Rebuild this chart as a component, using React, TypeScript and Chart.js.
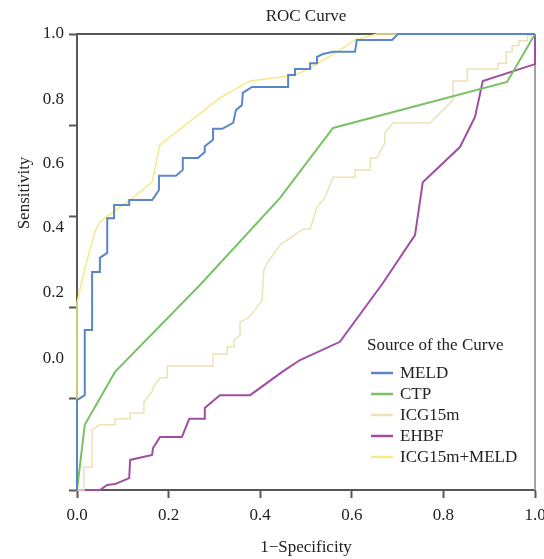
import React, { useEffect, useRef } from 'react';
import { Chart, registerables } from 'chart.js';

Chart.register(...registerables);

// ---- Data ----
const chartTitle = 'ROC Curve';
const xAxisTitle = '1\u2212Specificity';
const yAxisTitle = 'Sensitivity';
const legendTitle = 'Source of the Curve';

const seriesNames = ['MELD', 'CTP', 'ICG15m', 'EHBF', 'ICG15m+MELD'];

const meldX = [0, 0, 0.017, 0.017, 0.033, 0.033, 0.05, 0.05, 0.066, 0.066, 0.081, 0.081, 0.114, 0.114, 0.164, 0.179, 0.179, 0.216, 0.231, 0.231, 0.264, 0.279, 0.279, 0.297, 0.297, 0.317, 0.341, 0.347, 0.36, 0.362, 0.382, 0.461, 0.461, 0.476, 0.476, 0.509, 0.509, 0.524, 0.524, 0.537, 0.559, 0.607, 0.611, 0.688, 0.701, 1];
const meldY = [0, 0.197, 0.208, 0.351, 0.351, 0.478, 0.478, 0.509, 0.52, 0.596, 0.596, 0.625, 0.625, 0.636, 0.636, 0.658, 0.689, 0.689, 0.702, 0.728, 0.728, 0.741, 0.754, 0.768, 0.792, 0.792, 0.805, 0.833, 0.844, 0.871, 0.884, 0.884, 0.91, 0.91, 0.923, 0.923, 0.936, 0.936, 0.95, 0.956, 0.961, 0.961, 0.987, 0.987, 1, 1];

const ctpX = [0, 0.017, 0.083, 0.269, 0.443, 0.559, 0.939, 1];
const ctpY = [0, 0.143, 0.259, 0.45, 0.64, 0.794, 0.895, 1];

const icgX = [0, 0.015, 0.015, 0.033, 0.033, 0.05, 0.083, 0.083, 0.116, 0.116, 0.146, 0.146, 0.166, 0.166, 0.181, 0.197, 0.197, 0.297, 0.297, 0.328, 0.328, 0.343, 0.343, 0.356, 0.356, 0.373, 0.389, 0.404, 0.408, 0.417, 0.443, 0.493, 0.509, 0.524, 0.531, 0.541, 0.559, 0.607, 0.607, 0.64, 0.64, 0.655, 0.672, 0.672, 0.69, 0.771, 0.821, 0.821, 0.852, 0.852, 0.919, 0.919, 0.937, 0.937, 0.95, 0.95, 0.965, 0.965, 0.983, 0.983, 1];
const icgY = [0, 0, 0.05, 0.05, 0.132, 0.143, 0.143, 0.156, 0.156, 0.169, 0.169, 0.193, 0.219, 0.226, 0.246, 0.246, 0.272, 0.272, 0.298, 0.298, 0.314, 0.314, 0.329, 0.34, 0.368, 0.377, 0.395, 0.417, 0.482, 0.5, 0.537, 0.572, 0.572, 0.621, 0.629, 0.64, 0.686, 0.686, 0.702, 0.702, 0.728, 0.728, 0.761, 0.783, 0.805, 0.805, 0.855, 0.897, 0.897, 0.923, 0.923, 0.936, 0.936, 0.961, 0.961, 0.974, 0.974, 0.985, 0.985, 0.996, 1];

const ehbfX = [0, 0.05, 0.066, 0.083, 0.114, 0.116, 0.164, 0.166, 0.181, 0.229, 0.245, 0.279, 0.279, 0.312, 0.378, 0.448, 0.487, 0.574, 0.668, 0.738, 0.755, 0.836, 0.869, 0.886, 1, 1];
const ehbfY = [0, 0, 0.011, 0.013, 0.026, 0.066, 0.077, 0.092, 0.116, 0.116, 0.156, 0.156, 0.18, 0.208, 0.208, 0.259, 0.285, 0.325, 0.454, 0.559, 0.675, 0.752, 0.818, 0.897, 0.934, 1];

const comboX = [0, 0, 0.011, 0.024, 0.039, 0.05, 0.079, 0.116, 0.164, 0.181, 0.312, 0.378, 0.476, 0.504, 0.568, 0.607, 0.655, 1];
const comboY = [0, 0.41, 0.461, 0.511, 0.566, 0.588, 0.61, 0.636, 0.675, 0.757, 0.86, 0.897, 0.91, 0.923, 0.961, 0.987, 1, 1];

const xTickValues = [0, 0.2, 0.4, 0.6, 0.8, 1.0];
const xTickLabels = ['0.0', '0.2', '0.4', '0.6', '0.8', '1.0'];
const yTickMarks = [0, 0.2, 0.4, 0.6, 0.8, 1.0];
const yTickLabelValues = [0.289, 0.432, 0.575, 0.717, 0.857, 1.0];
const yTickLabels = ['0.0', '0.2', '0.4', '0.6', '0.8', '1.0'];

// ---- Styles ----
const seriesColors = ['#5b86c8', '#78c265', '#ede2b4', '#a04ea3', '#f6ea86'];
const seriesWidths = [2, 2, 1.5, 2, 1.5];
const FONT = '"Liberation Serif", "Times New Roman", serif';
const AXIS = '#555a58';

const toPoints = (xs: number[], ys: number[]) => xs.map((x, i) => ({ x, y: ys[i] }));
const near = (a: number, b: number) => Math.abs(a - b) < 1e-6;

const framePlugin = {
  id: 'frame',
  beforeDatasetsDraw(chart: any) {
    const { ctx, chartArea } = chart;
    ctx.save();
    ctx.lineWidth = 2;
    ctx.strokeStyle = AXIS;
    ctx.beginPath();
    ctx.moveTo(chartArea.left, chartArea.top);
    ctx.lineTo(chartArea.right, chartArea.top);
    ctx.stroke();
    ctx.strokeStyle = '#a3a3a3';
    ctx.beginPath();
    ctx.moveTo(chartArea.right, chartArea.top);
    ctx.lineTo(chartArea.right, chartArea.bottom);
    ctx.stroke();
    ctx.restore();
  },
};

const yTitlePlugin = {
  id: 'yTitle',
  afterDraw(chart: any) {
    const { ctx } = chart;
    ctx.save();
    ctx.translate(25, 193);
    ctx.rotate(-Math.PI / 2);
    ctx.font = `17px ${FONT}`;
    ctx.fillStyle = '#222';
    ctx.textAlign = 'center';
    ctx.textBaseline = 'middle';
    ctx.fillText(yAxisTitle, 0, 0);
    ctx.restore();
  },
};

const legendPlugin = {
  id: 'rocLegend',
  afterDraw(chart: any) {
    const { ctx, chartArea } = chart;
    const x0 = chartArea.right - 168;
    ctx.save();
    ctx.font = `17px ${FONT}`;
    ctx.fillStyle = '#222';
    ctx.textAlign = 'left';
    ctx.textBaseline = 'middle';
    ctx.fillText(legendTitle, x0, chartArea.bottom - 144);
    chart.data.datasets.forEach((ds: any, i: number) => {
      const y = chartArea.bottom - 117 + i * 21;
      ctx.strokeStyle = ds.borderColor;
      ctx.lineWidth = 2.5;
      ctx.beginPath();
      ctx.moveTo(x0 + 4, y);
      ctx.lineTo(x0 + 26, y);
      ctx.stroke();
      ctx.fillText(ds.label, x0 + 33, y + 1);
    });
    ctx.restore();
  },
};

export default function App() {
  const canvasRef = useRef<HTMLCanvasElement | null>(null);

  useEffect(() => {
    if (!canvasRef.current) return;
    const seriesX = [meldX, ctpX, icgX, ehbfX, comboX];
    const seriesY = [meldY, ctpY, icgY, ehbfY, comboY];
    const chart = new Chart(canvasRef.current, {
      type: 'line',
      data: {
        datasets: seriesNames.map((name, i) => ({
          label: name,
          data: toPoints(seriesX[i], seriesY[i]),
          borderColor: seriesColors[i],
          backgroundColor: seriesColors[i],
          borderWidth: seriesWidths[i],
          pointRadius: 0,
          tension: 0,
          fill: false,
          clip: false as any,
        })),
      },
      options: {
        animation: false,
        responsive: true,
        maintainAspectRatio: false,
        layout: { padding: { top: 0, right: 9, bottom: 0, left: 0 } },
        plugins: {
          legend: { display: false },
          tooltip: { enabled: false },
          title: {
            display: true,
            text: chartTitle,
            fullSize: false,
            color: '#222',
            font: { family: FONT, size: 17, weight: 'normal' },
            padding: { top: 6, bottom: 7.6 },
          },
        },
        scales: {
          x: {
            type: 'linear',
            min: 0,
            max: 1,
            afterFit: (s: any) => { s.height = 69; s.paddingLeft = 0; s.paddingRight = 0; },
            afterBuildTicks: (s: any) => { s.ticks = xTickValues.map((v) => ({ value: v })); },
            ticks: {
              autoSkip: false,
              maxRotation: 0,
              padding: 7,
              color: '#222',
              font: { family: FONT, size: 17 },
              callback: (value: any) => {
                const i = xTickValues.findIndex((v) => near(v, Number(value)));
                return i >= 0 ? xTickLabels[i] : '';
              },
            },
            grid: { display: true, drawOnChartArea: false, drawTicks: true, tickLength: 8, color: AXIS, tickWidth: 2 },
            border: { display: true, color: AXIS, width: 2 },
            title: {
              display: true,
              text: xAxisTitle,
              color: '#222',
              font: { family: FONT, size: 17 },
              padding: { top: 0, bottom: 1 },
            },
          },
          y: {
            type: 'linear',
            min: 0,
            max: 1,
            afterFit: (s: any) => { s.width = 77; s.paddingTop = 0; s.paddingBottom = 0; },
            afterBuildTicks: (s: any) => {
              const vals = Array.from(new Set([...yTickMarks, ...yTickLabelValues])).sort((a, b) => a - b);
              s.ticks = vals.map((v) => ({ value: v }));
            },
            ticks: {
              autoSkip: false,
              padding: 5,
              color: '#222',
              font: { family: FONT, size: 17 },
              callback: (value: any) => {
                const i = yTickLabelValues.findIndex((v) => near(v, Number(value)));
                return i >= 0 ? yTickLabels[i] : '';
              },
            },
            grid: {
              display: true,
              drawOnChartArea: false,
              drawTicks: true,
              tickLength: 8,
              tickWidth: 2,
              color: (c: any) => (c.tick && yTickMarks.some((v) => near(v, c.tick.value)) ? AXIS : 'rgba(0,0,0,0)'),
              tickColor: (c: any) => (c.tick && yTickMarks.some((v) => near(v, c.tick.value)) ? AXIS : 'rgba(0,0,0,0)'),
            },
            border: { display: true, color: AXIS, width: 2 },
            title: { display: false },
          },
        },
      },
      plugins: [framePlugin, yTitlePlugin, legendPlugin],
    } as any);
    return () => chart.destroy();
  }, []);

  return (
    <div style={{ position: 'fixed', left: 0, top: 0, width: 544, height: 559, background: '#fff' }}>
      <canvas ref={canvasRef} />
    </div>
  );
}
